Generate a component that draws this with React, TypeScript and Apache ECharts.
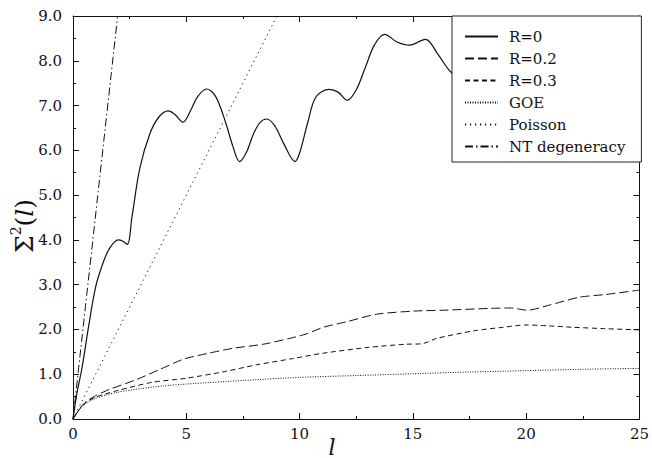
import React, { useEffect, useRef } from "react";
import * as echarts from "echarts";

const FONT = "DejaVu Serif";
const INK = "#111";

const seriesNames = ["R=0", "R=0.2", "R=0.3", "GOE", "Poisson", "NT degeneracy"];

const r0L = [0, 0.1, 0.2, 0.4, 0.7, 1.0, 1.3, 1.6, 2.0, 2.2, 2.4, 2.6, 2.95, 3.4, 3.8, 4.2, 4.5, 4.85, 5.2, 5.5, 5.9, 6.3, 6.75, 7.05, 7.35, 7.65, 7.95, 8.25, 8.55, 8.9, 9.3, 9.8, 10.0, 10.35, 10.72, 11.3, 11.7, 12.1, 12.5, 12.9, 13.3, 13.75, 14.3, 14.85, 15.55, 16.1, 16.6, 17.2];
const r0Y = [0, 0.35, 0.65, 1.15, 2.1, 2.95, 3.45, 3.8, 4.0, 3.97, 3.9, 4.5, 5.6, 6.38, 6.75, 6.88, 6.8, 6.63, 6.9, 7.2, 7.37, 7.2, 6.6, 6.1, 5.75, 5.95, 6.35, 6.62, 6.7, 6.55, 6.15, 5.75, 5.94, 6.6, 7.19, 7.36, 7.3, 7.12, 7.35, 7.85, 8.35, 8.59, 8.42, 8.35, 8.48, 8.15, 7.79, 7.5];

const r02L = [0, 0.15, 0.35, 0.6, 1.0, 1.6, 2.75, 3.8, 4.9, 6.0, 7.07, 8.4, 9.56, 10.3, 11.06, 12.06, 13.4, 15.05, 16.4, 18.4, 19.3, 20.06, 21.0, 22.35, 23.5, 25];
const r02Y = [0, 0.12, 0.27, 0.4, 0.52, 0.66, 0.87, 1.1, 1.34, 1.47, 1.58, 1.67, 1.8, 1.9, 2.05, 2.17, 2.34, 2.41, 2.43, 2.47, 2.48, 2.43, 2.54, 2.72, 2.78, 2.88];

const r03L = [0, 0.15, 0.35, 0.6, 1.0, 2.0, 3.5, 5.0, 6.7, 8.1, 9.7, 11.05, 13.05, 14.7, 15.4, 16.05, 17.7, 19.0, 20.0, 21.0, 22.0, 23.35, 25];
const r03Y = [0, 0.12, 0.26, 0.38, 0.49, 0.64, 0.82, 0.91, 1.06, 1.21, 1.35, 1.47, 1.6, 1.67, 1.68, 1.8, 1.97, 2.05, 2.1, 2.08, 2.05, 2.02, 1.99];

const goeL = [0, 0.15, 0.35, 0.6, 1.0, 1.5, 2, 3, 4, 5, 7.5, 10, 12.5, 15, 17.5, 20, 22.5, 25];
const goeY = [0, 0.11, 0.25, 0.36, 0.46, 0.54, 0.6, 0.68, 0.74, 0.78, 0.86, 0.93, 0.97, 1.01, 1.05, 1.08, 1.11, 1.13];

const poissonL = [0, 9];
const poissonY = [0, 9];

const ntL = [0, 1.97];
const ntY = [0, 9];

const xMin = 0, xMax = 25, xStep = 5;
const yMin = 0, yMax = 9, yStep = 1;

const pairs = (xs: number[], ys: number[]) => xs.map((x, i) => [x, ys[i]]);

function makeAxis(position: string, showLabel: boolean, isX: boolean) {
  return {
    type: "value",
    position,
    min: isX ? xMin : yMin,
    max: isX ? xMax : yMax,
    interval: isX ? xStep : yStep,
    axisLine: { show: true, onZero: false, lineStyle: { color: INK, width: 1 } },
    axisTick: { show: true, inside: true, length: 6, lineStyle: { color: INK, width: 1 } },
    minorTick: { show: true, splitNumber: 2, length: 3, lineStyle: { color: INK, width: 1 } },
    splitLine: { show: false },
    minorSplitLine: { show: false },
    axisLabel: {
      show: showLabel,
      color: INK,
      fontFamily: FONT,
      fontSize: 15,
      margin: isX ? 7 : 11,
      formatter: isX ? (v: number) => String(v) : (v: number) => v.toFixed(1),
    },
  };
}

const dashes: Record<string, any> = {
  "R=0": "solid",
  "R=0.2": [9, 4],
  "R=0.3": [5, 3.5],
  GOE: [1, 1.5],
  Poisson: [1.2, 3.8],
  "NT degeneracy": [8, 3, 1.5, 3],
};

const seriesData: Record<string, number[][]> = {
  "R=0": pairs(r0L, r0Y),
  "R=0.2": pairs(r02L, r02Y),
  "R=0.3": pairs(r03L, r03Y),
  GOE: pairs(goeL, goeY),
  Poisson: pairs(poissonL, poissonY),
  "NT degeneracy": pairs(ntL, ntY),
};

export default function App() {
  const ref = useRef<HTMLDivElement>(null);
  useEffect(() => {
    const chart = echarts.init(ref.current!, null, { renderer: "svg" });
    const option: any = {
      animation: false,
      backgroundColor: "#fff",
      grid: { left: 73, right: 11, top: 16, bottom: 39, containLabel: false },
      xAxis: [makeAxis("bottom", true, true), makeAxis("top", false, true)],
      yAxis: [makeAxis("left", true, false), makeAxis("right", false, false)],
      legend: {
        data: seriesNames,
        orient: "vertical",
        left: 452,
        top: 16,
        padding: [13, 16, 8, 12],
        itemGap: 7,
        itemWidth: 33,
        itemHeight: 14,
        borderColor: "#222",
        borderWidth: 1,
        borderRadius: 0,
        backgroundColor: "#fff",
        selectedMode: false,
        itemStyle: { color: "rgba(0,0,0,0)", borderColor: "rgba(0,0,0,0)", borderWidth: 0, opacity: 0 },
        textStyle: { fontFamily: FONT, fontSize: 15, color: INK, padding: [0, 0, 0, 6] },
        z: 10,
      },
      series: seriesNames.map((name) => ({
        name,
        type: "line",
        xAxisIndex: 0,
        yAxisIndex: 0,
        data: seriesData[name],
        symbol: "none",
        showSymbol: false,
        smooth: name === "R=0" ? 0.35 : name === "Poisson" || name === "NT degeneracy" ? false : 0.25,
        clip: true,
        lineStyle: { color: INK, width: name === "R=0" ? 1.2 : 1, type: dashes[name] },
        itemStyle: { color: INK },
      })),
      graphic: [
        {
          type: "text",
          x: 24,
          y: 226,
          rotation: Math.PI / 2,
          style: {
            text: "{a|Σ}{s|2}{a|(}{i|l}{a|)}",
            align: "center",
            verticalAlign: "middle",
            rich: {
              a: { fontFamily: FONT, fontSize: 25, fill: INK, lineHeight: 30 },
              s: { fontFamily: FONT, fontSize: 14, fill: INK, verticalAlign: "top", lineHeight: 16 },
              i: { fontFamily: FONT, fontSize: 25, fontStyle: "italic", fill: INK, lineHeight: 30 },
            },
          },
        },
        {
          type: "text",
          x: 332,
          y: 447,
          style: {
            text: "l",
            fontFamily: FONT,
            fontStyle: "italic",
            fontSize: 22,
            fill: INK,
            align: "center",
            verticalAlign: "middle",
          },
        },
      ],
    };
    chart.setOption(option);
    return () => chart.dispose();
  }, []);
  return (
    <div
      ref={ref}
      style={{ position: "fixed", left: 0, top: 0, width: 652, height: 458, background: "#fff" }}
    />
  );
}
